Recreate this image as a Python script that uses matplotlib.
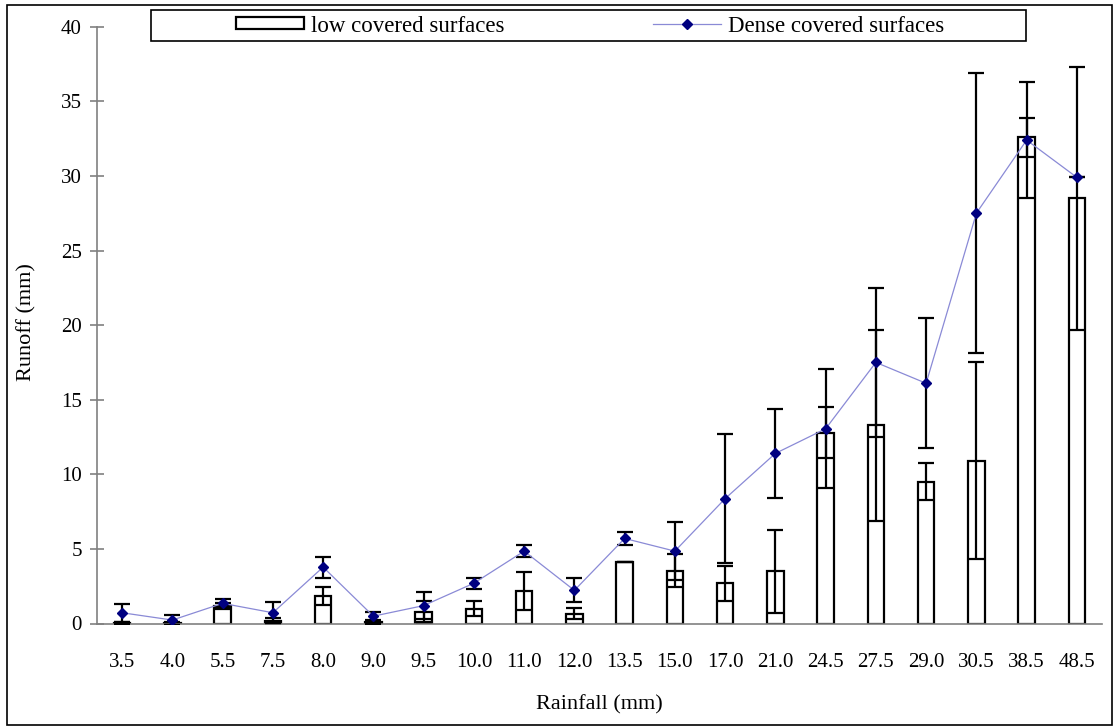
import numpy as np
import matplotlib
matplotlib.use("Agg")
import matplotlib.pyplot as plt
from matplotlib.patches import Rectangle
from matplotlib.lines import Line2D

plt.rcParams['font.family'] = ['Liberation Serif', 'DejaVu Serif']

# rainfall categories (mm)
rain = ['3.5', '4.0', '5.5', '7.5', '8.0', '9.0', '9.5', '10.0', '11.0', '12.0',
        '13.5', '15.0', '17.0', '21.0', '24.5', '27.5', '29.0', '30.5', '38.5', '48.5']

# low covered surfaces (bars) and error
low = [0.05, 0.02, 1.15, 0.2, 1.83, 0.1, 0.78, 0.98, 2.15, 0.65,
       4.12, 3.55, 2.7, 3.5, 12.8, 13.3, 9.5, 10.9, 32.6, 28.5]
low_err = [0.05, 0.1, 0.2, 0.18, 0.6, 0.1, 0.7, 0.5, 1.27, 0.38,
           0.0, 1.1, 1.17, 2.78, 1.7, 6.4, 1.25, 6.6, 1.3, 8.8]

# dense covered surfaces (line) and error
dense = [0.72, 0.23, 1.35, 0.72, 3.78, 0.49, 1.2, 2.7, 4.85, 2.22,
         5.7, 4.85, 8.37, 11.4, 13.05, 17.5, 16.1, 27.5, 32.4, 29.9]
dense_err = [0.62, 0.36, 0.3, 0.7, 0.7, 0.27, 0.88, 0.37, 0.4, 0.8,
             0.42, 1.95, 4.3, 3.0, 4.0, 5.0, 4.35, 9.4, 3.9, 0.0]

W, H = 1115, 727
fig = plt.figure(figsize=(W / 100, H / 100), dpi=100)
ax = fig.add_axes([97 / W, 1 - 623.5 / H, (1102 - 97) / W, (623.5 - 26.7) / H])

x = np.arange(len(rain))
ax.bar(x, low, width=0.33, facecolor='white', edgecolor='black', linewidth=1.6, zorder=2)
ax.errorbar(x, low, yerr=low_err, fmt='none', ecolor='black', elinewidth=1.6,
            capsize=5.5, capthick=1.6, zorder=3)
ax.errorbar(x, dense, yerr=dense_err, fmt='none', ecolor='black', elinewidth=1.6,
            capsize=5.5, capthick=1.6, zorder=3)
ax.plot(x, dense, color='#8a8ad6', linewidth=0.9, zorder=4)
ax.plot(x, dense, linestyle='none', marker='D', markersize=5.5, color='#000080', zorder=5)

ax.set_xlim(-0.5, len(rain) - 0.5)
ax.set_ylim(0, 40)
ax.set_yticks(np.arange(0, 41, 5))
ax.set_xticks(x)
ax.set_xticklabels(rain)

for side in ['top', 'right']:
    ax.spines[side].set_visible(False)
for side in ['left', 'bottom']:
    ax.spines[side].set_color('#808080')
    ax.spines[side].set_linewidth(1.2)
ax.tick_params(axis='y', direction='inout', length=10, width=1.2, color='#808080',
               labelsize=15, pad=6)
ax.tick_params(axis='x', length=0, labelsize=15, pad=21)

fig.text(27 / W, 1 - 322 / H, 'Runoff (mm)', rotation=90, ha='center', va='center', fontsize=16)
fig.text(599 / W, 1 - 705 / H, 'Rainfall (mm)', ha='center', va='center', fontsize=16)

# legend
handles = [Rectangle((0, 0), 1, 1, facecolor='white', edgecolor='black', linewidth=1.6),
           Line2D([], [], color='#8a8ad6', linewidth=0.9, marker='D', markersize=5,
                  markerfacecolor='#000080', markeredgecolor='#000080')]
fig.legend(handles, ['low covered surfaces', 'Dense covered surfaces'],
           loc='center', bbox_to_anchor=(590 / W, 1 - 26 / H), ncol=2, frameon=False,
           fontsize=16.5, handlelength=2.95, handleheight=0.44, columnspacing=6.5,
           handletextpad=0.3)
fig.patches.append(Rectangle((151 / W, 1 - 41 / H), (1026 - 151) / W, 31 / H,
                             transform=fig.transFigure, fill=False, edgecolor='black',
                             linewidth=1.2))

# outer chart border
fig.patches.append(Rectangle((7 / W, 1 - 725 / H), (1112 - 7) / W, (725 - 5) / H,
                             transform=fig.transFigure, fill=False, edgecolor='black',
                             linewidth=1.2))

fig.savefig('out.png', dpi=100)
